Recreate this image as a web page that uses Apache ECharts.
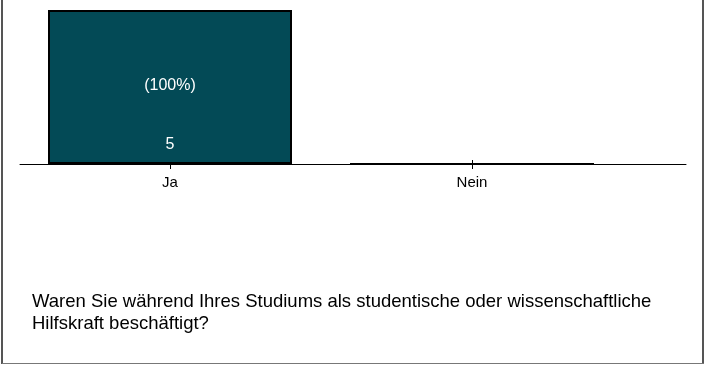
<!DOCTYPE html>
<html><head><meta charset="utf-8">
<script src="https://cdn.jsdelivr.net/npm/echarts@6/dist/echarts.min.js"></script>
<style>html,body{margin:0;padding:0;background:#fff}#c{width:706px;height:365px}</style>
</head><body><div id="c"></div>
<script>
const categories = ['Ja', 'Nein'];
const counts = [5, 0];
const percents = ['(100%)', ''];
const countLabels = ['5', ''];
const questionText = 'Waren Sie während Ihres Studiums als studentische oder wissenschaftliche\nHilfskraft beschäftigt?';

const chart = echarts.init(document.getElementById('c'));
const font = 'Liberation Sans, Arial, sans-serif';
chart.setOption({
  animation: false,
  grid: [
    {left: 19, right: 83, top: 10, bottom: 201},
    {left: 20, right: 20, top: 10, bottom: 201}
  ],
  xAxis: [
    {type: 'category', gridIndex: 0, data: categories,
     axisLine: {show: false},
     axisTick: {show: true, alignWithLabel: true, length: 5, lineStyle: {color: '#000'}},
     axisLabel: {color: '#000', fontFamily: font, fontSize: 15, margin: 11}},
    {type: 'category', gridIndex: 0, data: categories, position: 'bottom',
     axisLine: {show: false},
     axisTick: {show: true, inside: true, alignWithLabel: true, length: 4, lineStyle: {color: '#000'}},
     axisLabel: {show: false}},
    {type: 'value', gridIndex: 1, min: 0, max: 1,
     axisLine: {show: true, onZero: false, lineStyle: {color: '#000', width: 1}},
     axisTick: {show: false}, axisLabel: {show: false}, splitLine: {show: false}}
  ],
  yAxis: [
    {type: 'value', gridIndex: 0, min: 0, max: 5, show: false},
    {type: 'value', gridIndex: 1, min: 0, max: 1, show: false}
  ],
  series: [
    {type: 'bar', xAxisIndex: 0, yAxisIndex: 0, data: counts, barWidth: 244, z: 3,
     itemStyle: {color: '#034A56', borderColor: '#000', borderWidth: 2},
     label: {show: true, position: 'inside', offset: [0, -1], color: '#fff', fontFamily: font, fontSize: 16,
             formatter: p => percents[p.dataIndex]}},
    {type: 'bar', xAxisIndex: 0, yAxisIndex: 0, data: counts, barWidth: 244, barGap: '-100%', z: 4,
     itemStyle: {color: 'rgba(0,0,0,0)'},
     label: {show: true, position: 'insideBottom', distance: 11, color: '#fff', fontFamily: font, fontSize: 16,
             formatter: p => countLabels[p.dataIndex]}}
  ],
  graphic: [
    {type: 'text', left: 32, top: 291, style: {text: questionText, fill: '#000', font: '18.5px ' + font, lineHeight: 22}},
    {type: 'line', shape: {x1: 2, y1: 0, x2: 2, y2: 364}, style: {stroke: '#555', lineWidth: 2}},
    {type: 'line', shape: {x1: 703, y1: 0, x2: 703, y2: 364}, style: {stroke: '#555', lineWidth: 2}},
    {type: 'line', shape: {x1: 2, y1: 363.5, x2: 704, y2: 363.5}, style: {stroke: '#777', lineWidth: 1}}
  ]
});
</script></body></html>
